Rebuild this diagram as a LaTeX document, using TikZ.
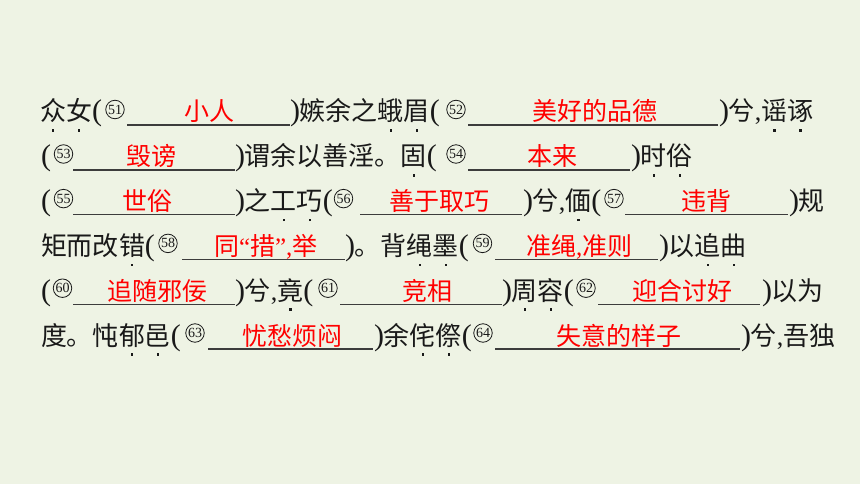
\documentclass[tikz,border=0pt]{standalone}
\usepackage{fontspec}
\setmainfont{Liberation Serif}
\newfontfamily\cjkf{Noto Sans CJK SC}
\newfontfamily\latinf{Liberation Serif}
\definecolor{bg}{RGB}{238,243,228}
\definecolor{ink}{RGB}{25,25,25}
\definecolor{ans}{RGB}{255,0,0}
\newcommand\zd[1]{\leavevmode\setbox0=\hbox{#1}\rlap{\hbox to\wd0{\hss\raisebox{-10.6pt}{\rule{2.5pt}{2.5pt}}\hss}}\box0}
\newcommand\lpar{{\latinf\fontsize{30}{30}\selectfont(}}
\newcommand\rpar{{\latinf\fontsize{30}{30}\selectfont)}}
\newcommand\lcom{{\latinf,}}
\tikzset{
  txt/.style={anchor=base west, inner sep=0pt, outer sep=0pt, text=ink, font=\cjkf\fontsize{26}{30}\selectfont},
  anstxt/.style={anchor=base west, inner sep=0pt, outer sep=0pt, text=ans, font=\cjkf\fontsize{25}{30}\selectfont},
  num/.style={circle, draw=ink, line width=0.8pt, minimum size=18.5pt, inner sep=0pt, text=ink, font=\latinf\fontsize{14}{14}\selectfont},
  ul/.style={draw=ink!85, line width=1.2pt}
}
\begin{document}
\begin{tikzpicture}[x=1pt,y=-1pt]
\useasboundingbox (0,0) rectangle (860,484);
\fill[bg] (0,0) rectangle (860,484);
% line 1 (baseline 121)
\node[txt] (r1a) at (40,121) {\zd{众}\zd{女}\lpar};
\node[num] (c51) at (115,109.5) {51};
\draw[ul] (127,125) -- (290,125);
\node[anstxt] (a51) at (184,121) {小人};
\node[txt] (r1b) at (290,121) {\rpar 嫉余之\zd{蛾}\zd{眉}\lpar};
\node[num] (c52) at (456,109.5) {52};
\draw[ul] (468,125) -- (718,125);
\node[anstxt] (a52) at (532,121) {美好的品德};
\node[txt] (r1c) at (719,121) {\rpar 兮\lcom\zd{谣}\zd{诼}};
% line 2 (baseline 166)
\node[txt] (r2a) at (41,166) {\lpar};
\node[num] (c53) at (63.5,154) {53};
\draw[ul] (73,170) -- (235,170);
\node[anstxt] (a53) at (126,166) {毁谤};
\node[txt] (r2b) at (235,166) {\rpar 谓余以善淫。\zd{固}\lpar};
\node[num] (c54) at (456,154) {54};
\draw[ul] (468,170) -- (630,170);
\node[anstxt] (a54) at (527,166) {本来};
\node[txt] (r2c) at (631,166) {\rpar\zd{时}\zd{俗}};
% line 3 (baseline 210.6)
\node[txt] (r3a) at (41,210.6) {\lpar};
\node[num] (c55) at (63.5,198.6) {55};
\draw[ul] (73,214.6) -- (235,214.6);
\node[anstxt] (a55) at (122,210.6) {世俗};
\node[txt] (r3b) at (235,210.6) {\rpar 之\zd{工}\zd{巧}\lpar};
\node[num] (c56) at (343.5,198.6) {56};
\draw[ul] (360,214.6) -- (522,214.6);
\node[anstxt] (a56) at (389,210.6) {善于取巧};
\node[txt] (r3c) at (523,210.6) {\rpar 兮\lcom\zd{偭}\lpar};
\node[num] (c57) at (614,198.6) {57};
\draw[ul] (625,214.6) -- (788,214.6);
\node[anstxt] (a57) at (681,210.6) {违背};
\node[txt] (r3d) at (789,210.6) {\rpar 规};
% line 4 (baseline 255.4)
\node[txt] (r4a) at (41,255.4) {矩而改\zd{错}\lpar};
\node[num] (c58) at (168,243.4) {58};
\draw[ul] (182,259.4) -- (345,259.4);
\node[anstxt] (a58) at (214,255.4) {同{\latinf“}措{\latinf”,}举};
\node[txt] (r4b) at (345,255.4) {\rpar 。背\zd{绳}\zd{墨}\lpar};
\node[num] (c59) at (482.5,243.4) {59};
\draw[ul] (495,259.4) -- (658,259.4);
\node[anstxt] (a59) at (526,255.4) {准绳{\latinf,}准则};
\node[txt] (r4c) at (659,255.4) {\rpar 以\zd{追}\zd{曲}};
% line 5 (baseline 300.2)
\node[txt] (r5a) at (41,300.2) {\lpar};
\node[num] (c60) at (62.5,288.2) {60};
\draw[ul] (73,304.2) -- (235,304.2);
\node[anstxt] (a60) at (107,300.2) {追随邪佞};
\node[txt] (r5b) at (235,300.2) {\rpar 兮\lcom\zd{竟}\lpar};
\node[num] (c61) at (328,288.2) {61};
\draw[ul] (340,304.2) -- (502,304.2);
\node[anstxt] (a61) at (402,300.2) {竞相};
\node[txt] (r5c) at (502,300.2) {\rpar\zd{周}\zd{容}\lpar};
\node[num] (c62) at (586,288.2) {62};
\draw[ul] (598,304.2) -- (760,304.2);
\node[anstxt] (a62) at (632,300.2) {迎合讨好};
\node[txt] (r5d) at (762,300.2) {\rpar 以为};
% line 6 (baseline 345)
\node[txt] (r6a) at (41,345) {度。忳\zd{郁}\zd{邑}\lpar};
\node[num] (c63) at (195,333) {63};
\draw[ul] (208,349) -- (373,349);
\node[anstxt] (a63) at (242,345) {忧愁烦闷};
\node[txt] (r6b) at (374,345) {\rpar 余\zd{侘}\zd{傺}\lpar};
\node[num] (c64) at (483,333) {64};
\draw[ul] (495,349) -- (740,349);
\node[anstxt] (a64) at (556,345) {失意的样子};
\node[txt] (r6c) at (741,345) {\rpar 兮\lcom 吾独};
\end{tikzpicture}
\end{document}
